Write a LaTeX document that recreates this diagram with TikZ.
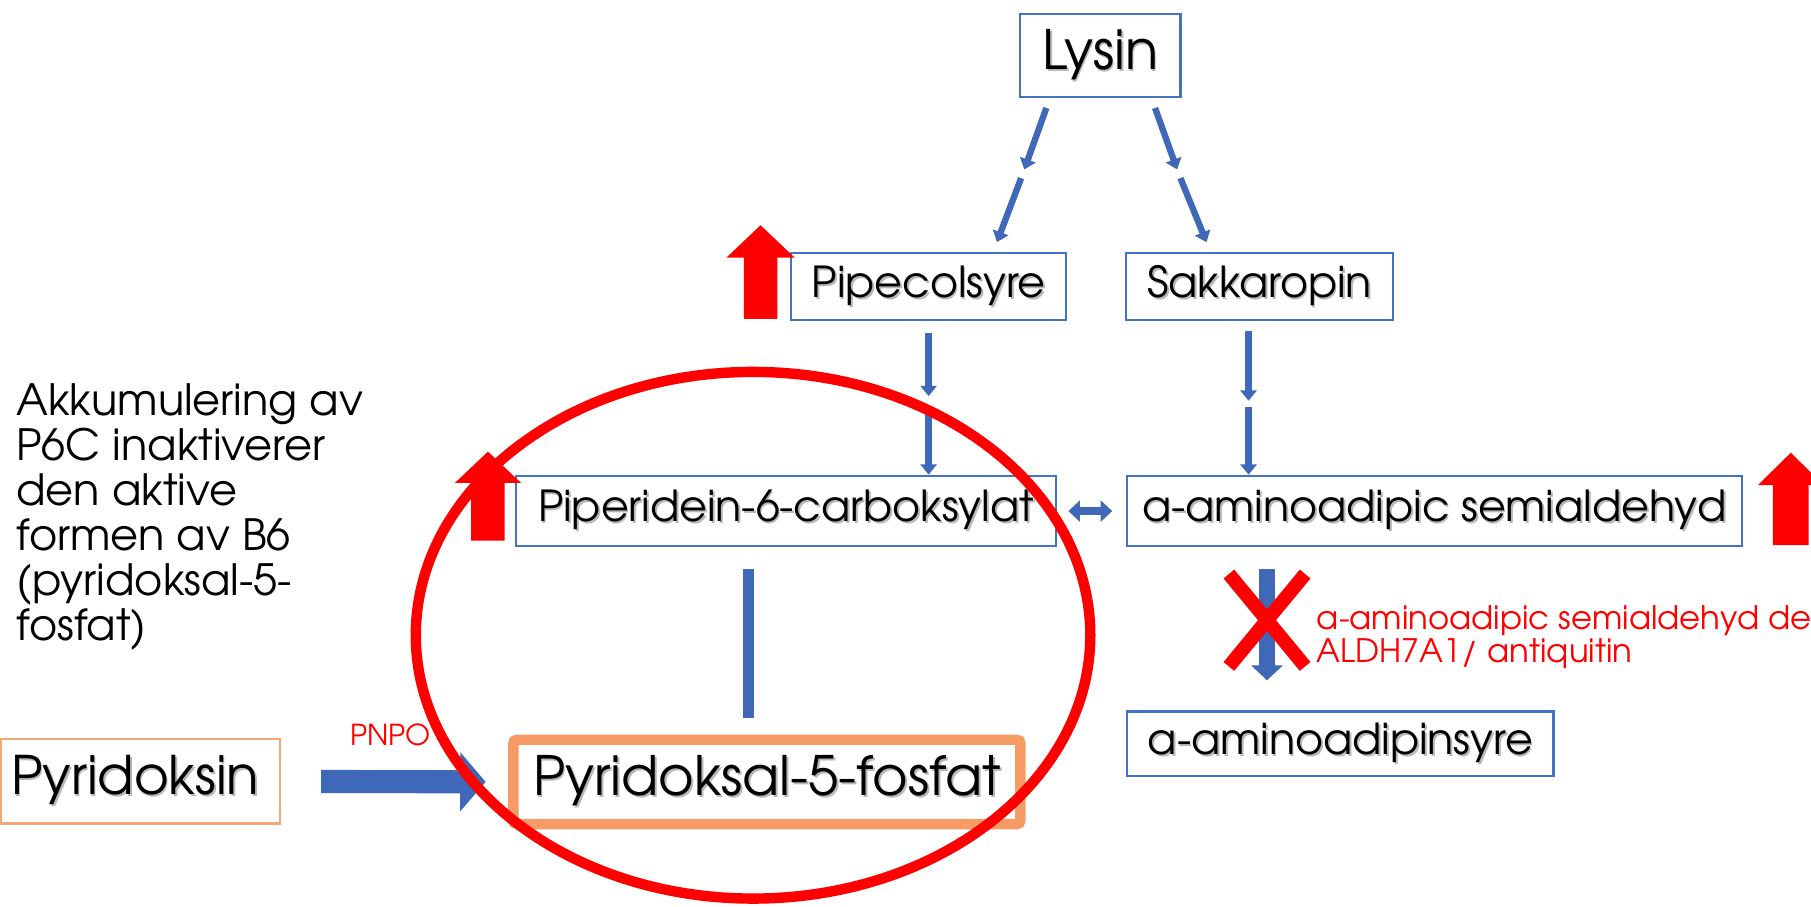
\documentclass[tikz,border=0pt]{standalone}
\usepackage{fontspec}
\setmainfont{TeX Gyre Adventor}
\usetikzlibrary{arrows.meta,calc}
\definecolor{boxblue}{HTML}{4472C4}
\definecolor{arrowblue}{HTML}{3F69B8}
\definecolor{hired}{HTML}{FF0000}
\definecolor{salmon}{HTML}{F79B66}
\definecolor{peach}{HTML}{F4A878}

% text with a soft grey drop shadow
\newcommand\shadowed[1]{\leavevmode\rlap{\kern1.6pt\raisebox{-1.6pt}{\color{black!28}#1}}#1}
\newcommand\fs[1]{\fontsize{#1}{#1}\selectfont}

\begin{document}
\begin{tikzpicture}[x=1pt,y=-1pt,
  bluebox/.style={draw=boxblue, line width=2pt, inner sep=0pt},
  thinarrow/.style={draw=arrowblue, line width=5.5pt, -{Triangle[length=9pt,width=14pt]}},
  blockarrow/.style={draw=arrowblue, line width=20pt, -{Triangle[length=22pt,width=50pt]}},
  downarrow/.style={draw=arrowblue, line width=14pt, -{Triangle[length=13pt,width=27pt]}},
  bothways/.style={draw=arrowblue, line width=7pt, {Triangle[length=10pt,width=18pt]}-{Triangle[length=10pt,width=18pt]}},
  inhibit/.style={draw=arrowblue, line width=10pt},
  redmark/.style={draw=hired, line width=12pt},
  redtext/.style={text=hired, inner sep=0pt}
]
\useasboundingbox (0,0) rectangle (1568,785);
\clip (0,0) rectangle (1568,785);

% boxes of the lysine pathway
\node[bluebox, minimum width=139pt, minimum height=72pt, font=\fs{47}] (lysin) at (952.5,48) {\shadowed{Lysin}};
\node[bluebox, minimum width=238pt, minimum height=58pt, font=\fs{37}] (pipe) at (804,248) {\shadowed{Pipecolsyre}};
\node[bluebox, minimum width=231pt, minimum height=58pt, font=\fs{37}] (sakk) at (1090.5,248) {\shadowed{Sakkaropin}};
\node[bluebox, minimum width=467pt, minimum height=61pt, font=\fs{37}] (p6c) at (680.5,442.5) {\shadowed{Piperidein-6-carboksylat}};
\node[bluebox, minimum width=532pt, minimum height=61pt, font=\fs{37}] (aasa) at (1242,442.5) {\shadowed{a-aminoadipic semialdehyd}};
\node[bluebox, minimum width=369pt, minimum height=56pt, font=\fs{37}] (aaa) at (1160.5,644) {\shadowed{a-aminoadipinsyre}};

% vitamin B6 boxes
\node[draw=peach, line width=2pt, inner sep=0pt, minimum width=242pt, minimum height=73pt, font=\fs{46}] (pyr) at (121.5,676.5) {\shadowed{Pyridoksin}\kern9pt};
\node[draw=salmon, line width=9pt, rounded corners=3pt, inner sep=0pt, minimum width=439pt, minimum height=73pt, font=\fs{47}] (plp) at (664,677) {\shadowed{Pyridoksal-5-fosfat}};

% side note
\node[anchor=west, align=left, inner sep=0pt, font=\fontsize{37.3}{39}\selectfont] (note) at (14,447.5)
  {Akkumulering av\\P6C inaktiverer\\den aktive\\formen av B6\\(pyridoksal-5-\\fosfat)};

% split arrows from Lysin
\coordinate (sl) at (909,0);
\coordinate (sr) at (997,0);
\coordinate (ml) at (885.5,150.5);
\coordinate (mr) at (1020.5,150.5);
\coordinate (tl) at (860,0);
\coordinate (tr) at (1048,0);
\draw[thinarrow, shorten <=9pt, shorten >=4pt] (lysin.south -| sl) -- (ml);
\draw[thinarrow, shorten <=4pt, shorten >=9pt] (ml) -- (pipe.north -| tl);
\draw[thinarrow, shorten <=9pt, shorten >=4pt] (lysin.south -| sr) -- (mr);
\draw[thinarrow, shorten <=4pt, shorten >=9pt] (mr) -- (sakk.north -| tr);

% split vertical arrows
\coordinate (vl) at (804,348);
\coordinate (vr) at (1081,349.5);
\draw[thinarrow, shorten <=10pt, shorten >=5pt] (pipe.south) -- (vl);
\draw[thinarrow, shorten <=5pt] (vl) -- (p6c.north -| vl);
\draw[thinarrow, shorten <=9pt, shorten >=2.5pt] (sakk.south -| vr) -- (vr);
\draw[thinarrow, shorten <=2.5pt] (vr) -- (aasa.north -| vr);

% equilibrium P6C <-> AASA
\draw[bothways, shorten <=10pt, shorten >=12pt] (p6c.east) -- (aasa.west);

% inhibition of PLP by P6C
\coordinate (bx) at (648,0);
\draw[inhibit, shorten <=19pt, shorten >=14.5pt] (p6c.south -| bx) -- (plp.north -| bx);

% PNPO step
\draw[blockarrow, shorten <=34.5pt, shorten >=19.5pt] (pyr.east) -- (plp.west);
\node[redtext, font=\fs{25}] (pnpo) at (338,636) {PNPO};

% blocked dehydrogenase step
\coordinate (dx) at (1097,0);
\draw[downarrow, shorten <=19pt, shorten >=26pt] (aasa.south -| dx) -- (aaa.north -| dx);
\draw[redmark] (1064,497) -- (1130,577);
\draw[redmark] (1130,497) -- (1064,577);
\node[redtext, anchor=west, align=left, font=\fontsize{28}{28.5}\selectfont] (enz) at (1140,552)
  {a-aminoadipic semialdehyd de\\ALDH7A1/ antiquitin};

% raised levels
\fill[hired] (644,276) -- (644,223) -- (629,223) -- (658.5,195) -- (688,223) -- (673,223) -- (673,276) -- cycle;
\fill[hired] (408,468) -- (408,418) -- (394,418) -- (422.5,391) -- (451,418) -- (437,418) -- (437,468) -- cycle;
\fill[hired] (1535,472) -- (1535,420) -- (1522,420) -- (1550.5,392) -- (1579,420) -- (1566,420) -- (1566,472) -- cycle;

% ring round the P6C / PLP interaction
\draw[hired, line width=9pt] (652,550) ellipse [x radius=292, y radius=228];
\end{tikzpicture}
\end{document}
